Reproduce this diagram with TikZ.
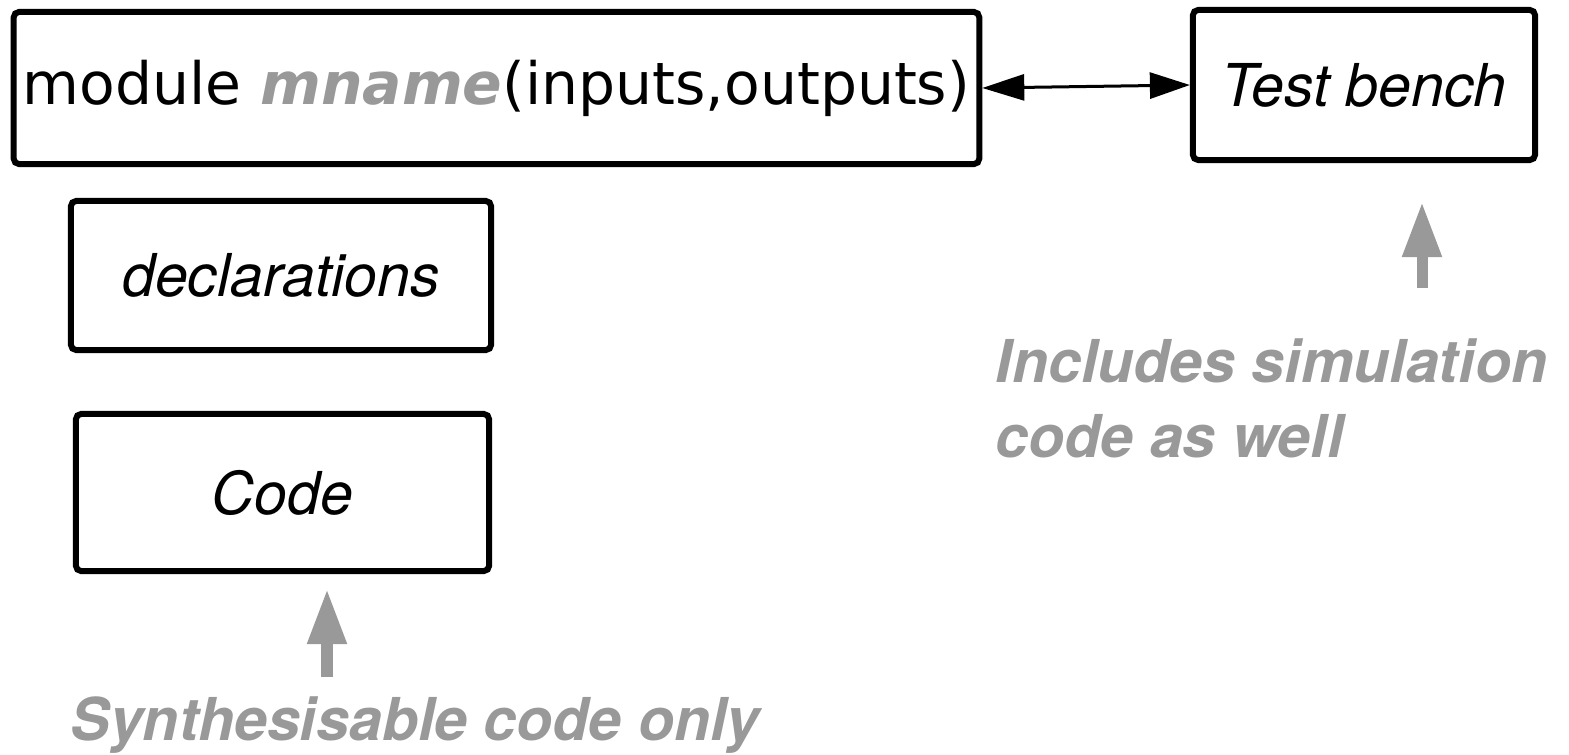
\documentclass[tikz,border=0pt]{standalone}
\usepackage{fontspec}
\setmainfont{DejaVu Sans}
\newfontfamily\helv{TeX Gyre Heros}
\usetikzlibrary{positioning, arrows.meta}
\definecolor{notegrey}{RGB}{153,153,153}

\begin{document}
\begin{tikzpicture}
		[
		x=0.01cm, y=-0.01cm,
		font=\fontsize{16.6}{21.3}\selectfont,
		block/.style ={rectangle, draw=black, line width=1.7pt, rounded corners=1.5pt, inner sep=0pt, align=center},
		slanted/.style ={font=\helv\itshape\fontsize{16.8}{21.3}\selectfont},
		note/.style ={font=\helv\bfseries\itshape\fontsize{16.8}{21.3}\selectfont, text=notegrey, inner sep=0pt, align=left},
		hint/.style ={draw=notegrey, line width=0.11cm, -{Triangle[length=0.55cm, width=0.37cm]}}
		]
		\useasboundingbox (0,0) rectangle (1569,754);
		\node[block, minimum width=9.65cm, minimum height=1.52cm] (mod) at (496.5,88) {module {\bfseries\itshape\color{notegrey}mname}(inputs,outputs)};
		\node[block, slanted, minimum width=3.42cm, minimum height=1.5cm] (tb) at (1364,85) {Test bench};
		\node[block, slanted, minimum width=4.2cm, minimum height=1.49cm] (decl) at (281,275.5) {declarations};
		\node[block, slanted, minimum width=4.13cm, minimum height=1.57cm] (code) at (282.5,492.5) {Code};
		\draw[{Triangle[length=0.42cm, width=0.26cm]}-{Triangle[length=0.4cm, width=0.26cm]}, line width=0.03cm] (mod.east) -- (tb.west);
		% grey notes
		\node[note, anchor=base west] (simnote) at (995,457) {Includes simulation\\code as well};
		\node[note, anchor=base west] (synnote) at (70,740) {Synthesisable code only};
		\coordinate (simfoot) at (1422,288);
		\coordinate (simtip) at (1422,202);
		\coordinate (synfoot) at (327,677);
		\coordinate (syntip) at (327,589);
		\draw[hint] (simfoot) -- (simtip);
		\draw[hint] (synfoot) -- (syntip);
	\end{tikzpicture}
\end{document}
